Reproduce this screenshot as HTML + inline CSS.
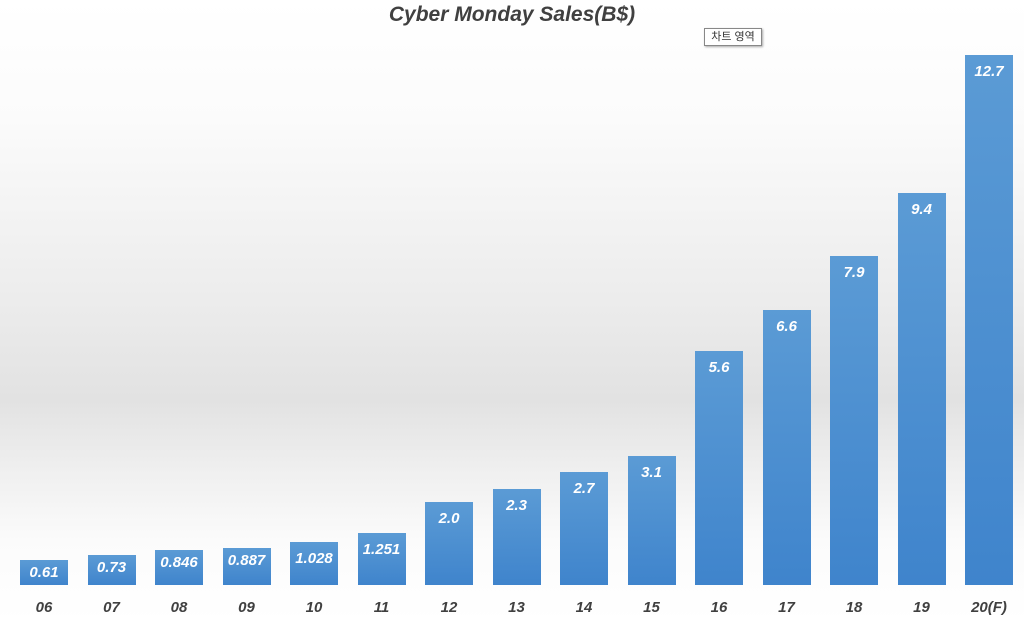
<!DOCTYPE html>
<html><head><meta charset="utf-8"><style>
body{margin:0;width:1024px;height:622px;overflow:hidden;font-family:"Liberation Sans","Noto Sans CJK KR",sans-serif;
background:linear-gradient(to bottom,#ffffff 0px,#fbfbfb 120px,#ececec 300px,#e2e2e2 400px,#efefef 470px,#fbfbfb 540px,#ffffff 622px);position:relative}
.t{position:absolute;left:0;width:1024px;top:3px;text-align:center;font-size:21px;font-weight:bold;font-style:italic;color:#404040}
.tip{position:absolute;left:704px;top:28px;width:56px;height:16px;border:1px solid #888;background:#fff;font-size:11px;text-align:center;line-height:16px;color:#333;box-shadow:1px 1px 2px #aaa}
.b{position:absolute;width:48px;bottom:37px;background:linear-gradient(to bottom,#5b9bd5,#3f84cc);}
.v{position:absolute;width:48px;text-align:center;color:#fff;font-weight:bold;font-style:italic;font-size:15px}
.x{position:absolute;width:60px;top:599px;text-align:center;color:#404040;font-weight:bold;font-style:italic;font-size:15px}
</style></head><body>
<div class="t">Cyber Monday Sales(B$)</div>
<div class="tip">차트 영역</div>
<div id="c"></div>
<script>
var d=[["06",0.61,"0.61"],["07",0.73,"0.73"],["08",0.846,"0.846"],["09",0.887,"0.887"],["10",1.028,"1.028"],["11",1.251,"1.251"],["12",2.0,"2.0"],["13",2.3,"2.3"],["14",2.7,"2.7"],["15",3.1,"3.1"],["16",5.6,"5.6"],["17",6.6,"6.6"],["18",7.9,"7.9"],["19",9.4,"9.4"],["20(F)",12.7,"12.7"]];
var h="";
d.forEach(function(e,i){var x=20+i*67.5;var ht=Math.max(e[1]*41.7,25);var top=585-ht;
h+='<div class="b" style="left:'+x+'px;height:'+ht+'px"></div>';
h+='<div class="v" style="left:'+x+'px;top:'+(top+(ht<40?4:8))+'px">'+e[2]+'</div>';
h+='<div class="x" style="left:'+(x-6)+'px">'+e[0]+'</div>';});
document.getElementById("c").innerHTML=h;
</script>
</body></html>
